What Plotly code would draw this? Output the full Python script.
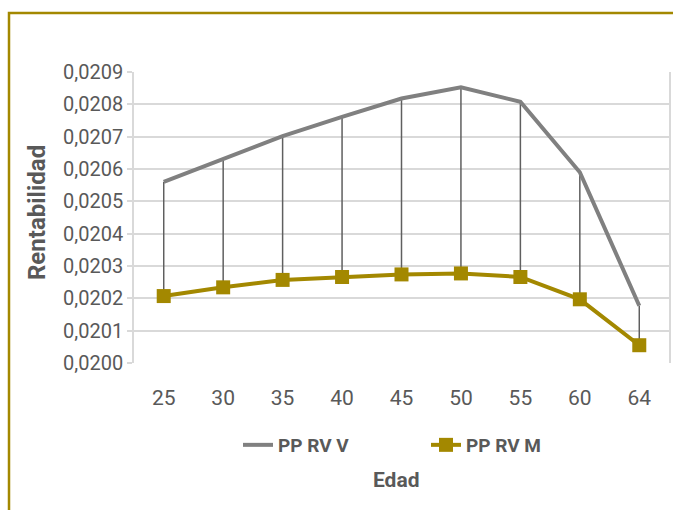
import plotly.graph_objects as go

edad = ["25", "30", "35", "40", "45", "50", "55", "60", "64"]
pp_rv_v = [0.020560, 0.020631, 0.020702, 0.020761, 0.020818, 0.020853, 0.020808, 0.020590, 0.020177]
pp_rv_m = [0.020207, 0.020234, 0.020257, 0.020266, 0.020274, 0.020277, 0.020266, 0.020197, 0.020055]
y_ticks = [0.0200, 0.0201, 0.0202, 0.0203, 0.0204, 0.0205, 0.0206, 0.0207, 0.0208, 0.0209]

W, H = 673, 510
ml, mr, mt, mb = 134, 4, 72, 147
pw, ph = W - ml - mr, H - mt - mb

def px_x(p):
    return (p - ml) / pw

def px_y(p):
    return (H - mb - p) / ph

fig = go.Figure()

# high-low drop lines
dx, dy = [], []
for c, v, m in zip(edad, pp_rv_v, pp_rv_m):
    dx += [c, c, None]
    dy += [v, m, None]
fig.add_trace(go.Scatter(x=dx, y=dy, mode="lines", line=dict(color="#5f5f5f", width=1.5),
                         showlegend=False, hoverinfo="skip"))

fig.add_trace(go.Scatter(x=edad, y=pp_rv_v, mode="lines", name="PP RV V",
                         line=dict(color="#808080", width=4)))
fig.add_trace(go.Scatter(x=edad, y=pp_rv_m, mode="lines+markers", name="PP RV M",
                         line=dict(color="#A38800", width=4),
                         marker=dict(symbol="square", size=14, color="#A38800")))

font_fam = "Roboto"
txt_col = "#595959"

fig.update_layout(
    width=W, height=H,
    margin=dict(l=ml, r=mr, t=mt, b=mb, autoexpand=False),
    paper_bgcolor="white", plot_bgcolor="white",
    separators=",.",
    font=dict(family=font_fam, color=txt_col, size=20),
    showlegend=True,
    legend=dict(orientation="h", x=px_x(238), xanchor="left", y=px_y(445), yanchor="middle",
                font=dict(size=19, color=txt_col, family=font_fam, weight="bold"),
                entrywidth=143, itemwidth=30, bgcolor="rgba(0,0,0,0)"),
    xaxis=dict(type="category", range=[-0.5, 8.5], autorange=False, automargin=False,
               showgrid=False, showline=False, ticks="", ticklabelstandoff=20,
               tickfont=dict(size=21, color=txt_col), fixedrange=True),
    yaxis=dict(range=[0.0200, 0.0209], automargin=False, tickvals=y_ticks, tickformat=".4f",
               showgrid=True, gridcolor="#d9d9d9", gridwidth=1.5,
               showline=True, linecolor="#d9d9d9", linewidth=1.5, mirror=True,
               ticks="outside", ticklen=5, tickcolor="#d9d9d9", tickwidth=1.5,
               zeroline=False, tickfont=dict(size=20, color=txt_col)),
    annotations=[
        dict(text="<b>Rentabilidad</b>", xref="paper", yref="paper", x=px_x(37), y=px_y(213),
             textangle=-90, showarrow=False, font=dict(size=24, color=txt_col),
             xanchor="center", yanchor="middle"),
        dict(text="<b>Edad</b>", xref="paper", yref="paper", x=px_x(396), y=px_y(480),
             showarrow=False, font=dict(size=21, color=txt_col),
             xanchor="center", yanchor="middle"),
    ],
    shapes=[
        dict(type="rect", xref="paper", yref="paper", x0=px_x(9), y0=px_y(560), x1=px_x(720), y1=px_y(13),
             line=dict(color="#A38800", width=2.5), fillcolor="rgba(0,0,0,0)", layer="below"),
    ],
)

fig.write_html("out.html")
